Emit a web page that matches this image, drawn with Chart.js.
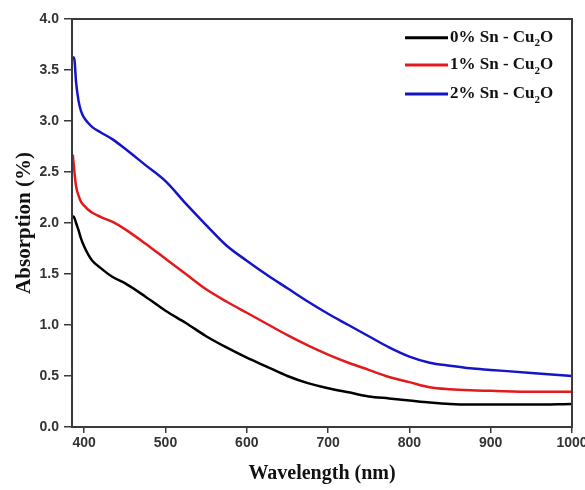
<!DOCTYPE html>
<html>
<head>
<meta charset="utf-8">
<script src="https://cdn.jsdelivr.net/npm/chart.js@4/dist/chart.umd.min.js"></script>
<style>
  html, body { margin: 0; padding: 0; background: #fff; }
  #wrap { width: 585px; height: 490px; }
</style>
</head>
<body>
<div id="wrap"><canvas id="chart"></canvas></div>
<script>
// wavelength grid (nm)
const wavelength = [386, 388, 390, 393, 396, 400, 405, 410, 420, 435, 450, 475, 500, 525, 550, 575, 600, 625, 650, 675, 700, 725, 750, 775, 800, 825, 850, 875, 900, 950, 1000];

const sn0 = [2.07, 2.05, 2.00, 1.93, 1.85, 1.77, 1.69, 1.63, 1.56, 1.47, 1.41, 1.28, 1.14, 1.02, 0.89, 0.78, 0.68, 0.59, 0.50, 0.43, 0.38, 0.34, 0.30, 0.28, 0.26, 0.24, 0.225, 0.22, 0.22, 0.22, 0.225];
const sn1 = [2.67, 2.50, 2.36, 2.27, 2.21, 2.17, 2.13, 2.10, 2.06, 2.01, 1.94, 1.80, 1.65, 1.50, 1.35, 1.23, 1.12, 1.01, 0.90, 0.80, 0.71, 0.63, 0.56, 0.49, 0.44, 0.39, 0.37, 0.36, 0.355, 0.345, 0.345];
const sn2 = [3.63, 3.60, 3.38, 3.20, 3.10, 3.03, 2.98, 2.94, 2.89, 2.82, 2.73, 2.57, 2.41, 2.19, 1.98, 1.78, 1.63, 1.49, 1.36, 1.23, 1.11, 1.00, 0.89, 0.78, 0.69, 0.63, 0.60, 0.575, 0.56, 0.53, 0.50];

const seriesNames = ["0% Sn - Cu2O", "1% Sn - Cu2O", "2% Sn - Cu2O"];
const seriesColors = ["#000000", "#e3191c", "#1414c8"];

const xTicks = [400, 500, 600, 700, 800, 900, 1000];
const yTicks = [0.0, 0.5, 1.0, 1.5, 2.0, 2.5, 3.0, 3.5, 4.0];

function pts(ys){
    return wavelength.map(function(w, i){ return {x: w, y: ys[i]}; });
}

// text with the digit in "Cu2O" drawn as subscript
function drawFormula(ctx, text, x, y, size){
    let m = text.match(/^(.*Cu)(\d)(O)$/);
    let parts = m ? [[m[1], 0], [m[2], 1], [m[3], 0]] : [[text, 0]];
    let cx = x;
    parts.forEach(function(p){
        if (p[1]) {
            ctx.font = "bold " + Math.round(size * 0.62) + "px 'Liberation Serif', 'Times New Roman', serif";
            ctx.fillText(p[0], cx, y + size * 0.35);
        } else {
            ctx.font = "bold " + size + "px 'Liberation Serif', 'Times New Roman', serif";
            ctx.fillText(p[0], cx, y);
        }
        cx += ctx.measureText(p[0]).width;
    });
}

const framePlugin = {
    id: "frame",
    afterDraw(chart){
        const ctx = chart.ctx;
        const a = chart.chartArea;
        ctx.save();
        ctx.strokeStyle = "#3a3a3a";
        ctx.lineWidth = 2;
        ctx.strokeRect(a.left, a.top, a.right - a.left, a.bottom - a.top);

        // legend
        ctx.textBaseline = "middle";
        ctx.textAlign = "left";
        const rowY = [18.7, 46, 75];
        chart.data.datasets.forEach(function(ds, i){
            let y = a.top + rowY[i];
            ctx.strokeStyle = ds.borderColor;
            ctx.lineWidth = 3;
            ctx.beginPath();
            ctx.moveTo(a.right - 167, y);
            ctx.lineTo(a.right - 124, y);
            ctx.stroke();
            ctx.fillStyle = "#111";
            drawFormula(ctx, ds.label, a.right - 122, y, 17);
        });
        ctx.restore();
    }
};

const datasets = [sn0, sn1, sn2].map(function(ys, i){
    return {
        label: seriesNames[i],
        data: pts(ys),
        borderColor: seriesColors[i],
        backgroundColor: seriesColors[i],
        borderWidth: 2.5,
        pointRadius: 0,
        cubicInterpolationMode: "monotone",
        fill: false
    };
});

const tickFont = { family: "'Liberation Sans', Arial, sans-serif", size: 14, weight: "bold" };

new Chart(document.getElementById("chart"), {
    type: "line",
    data: { datasets: datasets },
    plugins: [framePlugin],
    options: {
        responsive: true,
        maintainAspectRatio: false,
        animation: false,
        layout: { padding: { top: 19, right: 13, left: 0, bottom: 0 } },
        plugins: {
            legend: { display: false },
            tooltip: { enabled: false }
        },
        scales: {
            x: {
                type: "linear",
                min: 385,
                max: 1000,
                afterBuildTicks(scale){ scale.ticks = xTicks.map(function(v){ return {value: v}; }); },
                afterFit(scale){ scale.height = 63; scale.paddingRight = 0; scale.paddingLeft = 0; },
                grid: { drawOnChartArea: false, drawTicks: true, tickLength: 6, color: "#3a3a3a", lineWidth: 1.5 },
                border: { display: true, color: "#3a3a3a", width: 2 },
                ticks: { font: tickFont, color: "#333", padding: 2, maxRotation: 0, callback: function(v){ return String(v); } },
                title: { display: true, text: "Wavelength (nm)", color: "#111", padding: { top: 3 },
                         font: { family: "'Liberation Serif', 'Times New Roman', serif", size: 20, weight: "bold" } }
            },
            y: {
                min: 0,
                max: 4,
                afterBuildTicks(scale){ scale.ticks = yTicks.map(function(v){ return {value: v}; }); },
                afterFit(scale){ scale.width = 72; },
                grid: { drawOnChartArea: false, drawTicks: true, tickLength: 8, color: "#3a3a3a", lineWidth: 1.5 },
                border: { display: true, color: "#3a3a3a", width: 2 },
                ticks: { font: tickFont, color: "#333", padding: 5, callback: function(v){ return v.toFixed(1); } },
                title: { display: true, text: "Absorption (%)", color: "#111", padding: { top: 12, bottom: 0 },
                         font: { family: "'Liberation Serif', 'Times New Roman', serif", size: 21, weight: "bold" } }
            }
        }
    }
});
</script>
</body>
</html>
